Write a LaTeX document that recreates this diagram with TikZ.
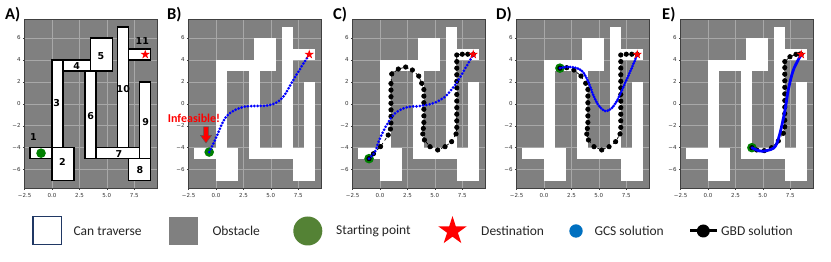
\documentclass[tikz,border=0pt]{standalone}
\usepackage{fontspec}
\setmainfont{Carlito}
\newfontfamily\djv{DejaVu Sans}
\usetikzlibrary{shapes.geometric}
\definecolor{axgray}{HTML}{808080}
\definecolor{gridc}{HTML}{A8A8A8}
\definecolor{navyb}{HTML}{203864}
\definecolor{lgreen}{HTML}{548235}
\definecolor{lblue}{HTML}{0070C0}
\definecolor{mgreen}{HTML}{008000}
\definecolor{gcsblue}{HTML}{0000FF}
\tikzset{
  panelsc/.style={x=10.97pt,y=10.97pt},
  gridline/.style={draw=gridc,line width=0.5pt},
  spine/.style={draw=black!75,line width=0.5pt},
  tickmk/.style={draw=black!75,line width=0.4pt},
  xtick/.style={font=\djv\fontsize{5.5}{6}\selectfont,text=black!80,inner sep=0pt,anchor=north,yshift=-5pt},
  ytick/.style={font=\djv\fontsize{5.5}{6}\selectfont,text=black!80,inner sep=0pt,anchor=east,xshift=-3.3pt},
  arect/.style={fill=white,draw=black,line width=1.3pt},
  frect/.style={fill=white},
  numlab/.style={font=\djv\bfseries\fontsize{9.5}{10}\selectfont,inner sep=0pt},
  startpt/.style={fill=mgreen},
  smallstar/.style={star,star points=5,star point ratio=2.618,fill=red,inner sep=0pt,minimum size=9.8pt},
  letterlab/.style={font=\bfseries\fontsize{16.5}{18}\selectfont,inner sep=0pt,anchor=base west},
  bluedots/.style={draw=gcsblue,line width=3pt,line cap=round,dash pattern=on 0pt off #1},
  gbdline/.style={draw=black,dashed,line width=0.7pt},
  legtext/.style={font=\fontsize{13.5}{15}\selectfont,text=black!85,inner sep=0pt,anchor=west},
}
\newcommand\mkaxbg{%
  \fill[axgray] (-2.55,-7.7) rectangle (9.55,7.7);
  \foreach \x in {-2.5,0,2.5,5,7.5} {\draw[gridline] (\x,-7.7) -- (\x,7.7);}
  \foreach \y in {-6,-4,-2,0,2,4,6} {\draw[gridline] (-2.55,\y) -- (9.55,\y);}
}
\newcommand\mkfree[1]{%
  \foreach \a/\b/\c/\d in {-2/-5/0/-4,0/-7/2/-4,0/-4/1/4,1/3/3.5/4,3.5/3/5.5/6,3/-5/4/3,4/-5/8/-4,7/-7/9/-5,8/-5/9/2,6/-4/7/7,7/4/9/5}{\path[#1] (\a,\b) rectangle (\c,\d);}
}
\newcommand\mkaxfg[1]{%
  \draw[spine] (-2.55,-7.7) rectangle (9.55,7.7);
  \foreach \x/\t [count=\i] in {-2.5/−2.5,0/0.0,2.5/2.5,5/5.0,7.5/7.5}{
    \draw[tickmk] (\x,-7.7) -- ++(0,-1.5pt);
    \node[xtick] (#1-xt\i) at (\x,-7.7) {\t};}
  \foreach \y/\t [count=\i] in {-6/−6,-4/−4,-2/−2,0/0,2/2,4/4,6/6}{
    \draw[tickmk] (-2.55,\y) -- ++(-1.5pt,0);
    \node[ytick] (#1-yt\i) at (-2.55,\y) {\t};}
}
\begin{document}
\begin{tikzpicture}
\useasboundingbox (0,0) rectangle (831pt,262pt);
\fill[white] (0,0) rectangle (831pt,262pt);

% panel letters
\node[letterlab] (LA) at (5pt,242.5pt) {A)};
\node[letterlab] (LB) at (167pt,242.5pt) {B)};
\node[letterlab] (LC) at (333pt,242.5pt) {C)};
\node[letterlab] (LD) at (496pt,242.5pt) {D)};
\node[letterlab] (LE) at (662pt,242.5pt) {E)};

% ---------- Panel A ----------
\begin{scope}[shift={(52pt,158.2pt)},panelsc]
  \mkaxbg
  \mkfree{arect}
  \mkaxfg{A}
  \node[numlab] (nA1) at (-1.7,-3.05) {1};
  \node[numlab] (nA2) at (0.94,-5.33) {2};
  \node[numlab] (nA3) at (0.43,0.05) {3};
  \node[numlab] (nA4) at (2.25,3.47) {4};
  \node[numlab] (nA5) at (4.47,4.38) {5};
  \node[numlab] (nA6) at (3.53,-1.11) {6};
  \node[numlab] (nA7) at (6.1,-4.58) {7};
  \node[numlab] (nA8) at (8.02,-6.03) {8};
  \node[numlab] (nA9) at (8.54,-1.63) {9};
  \node[numlab] (nA10) at (6.5,1.32) {10};
  \node[numlab] (nA11) at (8.23,5.75) {11};
  \fill[startpt] (-1,-4.5) circle (4.8pt);
  \node[smallstar] (starA) at (8.5,4.5) {};
\end{scope}

% ---------- Panel B ----------
\begin{scope}[shift={(216pt,158.2pt)},panelsc]
  \mkaxbg
  \mkfree{frect}
  \mkaxfg{B}
  \fill[startpt] (-0.62,-4.4) circle (4.8pt);
  \draw[bluedots=3.2pt] plot[smooth,tension=0.55] coordinates {(-0.62,-4.4) (-0.09,-3.3) (0.82,-1.32) (1.73,-0.57) (2.64,-0.26) (3.6,-0.2) (4.47,-0.18) (5.38,0.05) (6.14,0.65) (7.05,2.17) (7.8,3.4) (8.5,4.5)};
  \node[smallstar] (starB) at (8.5,4.5) {};
\end{scope}
\node[font=\bfseries\fontsize{12}{14}\selectfont,text=red,inner sep=0pt] (infeas) at (194pt,144pt) {Infeasible!};
\filldraw[fill=red,draw=black!65,line width=0.5pt] (203.5pt,135pt) -- (208.5pt,135pt) -- (208.5pt,126.5pt) -- (211.5pt,126.5pt) -- (206pt,119pt) -- (200.5pt,126.5pt) -- (203.5pt,126.5pt) -- cycle;

% ---------- Panel C ----------
\begin{scope}[shift={(380pt,158.2pt)},panelsc]
  \mkaxbg
  \mkfree{frect}
  \mkaxfg{C}
  \fill[startpt] (-1,-5) circle (4.8pt);
  \draw[gbdline] plot[mark=*,mark size=2.2pt,mark options={solid,fill=black}] coordinates {(-1,-5) (-0.6,-4.55) (0.05,-3.9) (0.75,-2.85) (0.95,-2.3) (1,-1.75) (1,-1.15) (1,-0.55) (1,0.05) (1,0.65) (1,1.25) (1,1.85) (1.07,2.72) (1.67,3.17) (2.34,3.35) (2.95,3.08) (3.53,2.53) (3.8,1.87) (4,1.3) (4,0.7) (4,0.1) (4,-0.5) (4,-1.1) (4,-1.7) (3.95,-2.25) (3.9,-2.75) (4.05,-3.3) (4.56,-3.91) (5.26,-4.21) (5.93,-3.91) (6.53,-3.45) (6.93,-2.75) (7,-2.15) (7,-1.55) (7,-0.95) (7,-0.35) (7,0.25) (7,0.85) (7,1.45) (7,2.05) (7,2.65) (7,3.25) (7,3.85) (7,4.45) (7.5,4.52) (8,4.52) (8.5,4.5)};
  \draw[bluedots=3.3pt] plot[smooth,tension=0.55] coordinates {(-1,-5) (-0.46,-4.37) (0,-3.15) (0.61,-1.93) (1.37,-0.87) (2.43,-0.32) (3.65,-0.2) (4.86,0.05) (5.93,0.65) (6.84,1.71) (7.6,2.93) (8.5,4.5)};
  \node[smallstar] (starC) at (8.5,4.5) {};
\end{scope}

% ---------- Panel D ----------
\begin{scope}[shift={(544pt,158.2pt)},panelsc]
  \mkaxbg
  \mkfree{frect}
  \mkaxfg{D}
  \fill[startpt] (1.45,3.25) circle (4.8pt);
  \draw[gbdline] plot[mark=*,mark size=2.2pt,mark options={solid,fill=black}] coordinates {(1.45,3.25) (2.07,3.29) (2.73,3.08) (3.37,2.53) (3.8,1.87) (4,1.3) (4,0.7) (4,0.1) (4,-0.5) (4,-1.1) (4,-1.7) (3.95,-2.25) (3.9,-2.75) (4.05,-3.3) (4.56,-3.91) (5.26,-4.21) (5.93,-3.91) (6.53,-3.45) (6.93,-2.75) (7,-2.15) (7,-1.55) (7,-0.95) (7,-0.35) (7,0.25) (7,0.85) (7,1.45) (7,2.05) (7,2.65) (7,3.25) (7,3.85) (7,4.45) (7.5,4.52) (8,4.52) (8.5,4.5)};
  \draw[bluedots=2.6pt] plot[smooth,tension=0.55] coordinates {(1.45,3.25) (2.0,3.35) (2.67,3.33) (3.44,3.02) (4.04,2.01) (4.49,0.8) (4.95,-0.11) (5.56,-0.66) (6.17,-0.41) (6.77,0.5) (7.38,1.87) (7.99,3.24) (8.5,4.5)};
  \node[smallstar] (starD) at (8.5,4.5) {};
\end{scope}

% ---------- Panel E ----------
\begin{scope}[shift={(708pt,158.2pt)},panelsc]
  \mkaxbg
  \mkfree{frect}
  \mkaxfg{E}
  \fill[startpt] (4,-4) circle (4.8pt);
  \draw[gbdline] plot[mark=*,mark size=2.2pt,mark options={solid,fill=black}] coordinates {(4,-4) (4.44,-4.21) (5.13,-4.27) (5.8,-4.0) (6.41,-3.39) (6.87,-2.69) (7,-2.1) (7,-1.5) (7,-0.9) (7,-0.3) (7,0.3) (7,0.9) (7,1.5) (7,2.1) (7,2.7) (7,3.3) (7,3.85) (7.47,4.29) (8.02,4.51) (8.39,4.54) (8.5,4.5)};
  \draw[gcsblue,line width=2.8pt,line cap=round] plot[smooth,tension=0.55] coordinates {(4,-4) (4.7,-4.3) (5.35,-4.27) (6.11,-3.91) (6.56,-2.69) (7.02,-0.57) (7.32,1.26) (7.78,3.08) (8.5,4.5)};
  \node[smallstar] (starE) at (8.5,4.5) {};
\end{scope}

% ---------- Legend ----------
\draw[navyb,line width=1.4pt,fill=white] (33pt,17.4pt) rectangle (61.6pt,45.3pt);
\node[legtext] (t1) at (73.3pt,31pt) {Can traverse};
\fill[axgray] (169.3pt,17pt) rectangle (197.7pt,45.3pt);
\node[legtext] (t2) at (212.3pt,31pt) {Obstacle};
\node[circle,fill=lgreen,inner sep=0pt,minimum size=29pt] (g1) at (307.8pt,31pt) {};
\node[legtext] (t3) at (336pt,31pt) {Starting point};
\node[star,star points=5,star point ratio=2.618,fill=red,inner sep=0pt,minimum size=29.8pt] (s1) at (452.5pt,31pt) {};
\node[legtext] (t4) at (481pt,31pt) {Destination};
\node[circle,fill=lblue,inner sep=0pt,minimum size=13.4pt] (b1) at (576pt,31pt) {};
\node[legtext] (t5) at (594.3pt,31pt) {GCS solution};
\coordinate (k0) at (690pt,31pt);
\coordinate (k1) at (716.7pt,31pt);
\draw[black,line width=3pt] (k0) -- (k1);
\node[circle,fill=black,inner sep=0pt,minimum size=13pt] (k2) at (703.3pt,31pt) {};
\node[legtext] (t6) at (721pt,31pt) {GBD solution};
\end{tikzpicture}
\end{document}
